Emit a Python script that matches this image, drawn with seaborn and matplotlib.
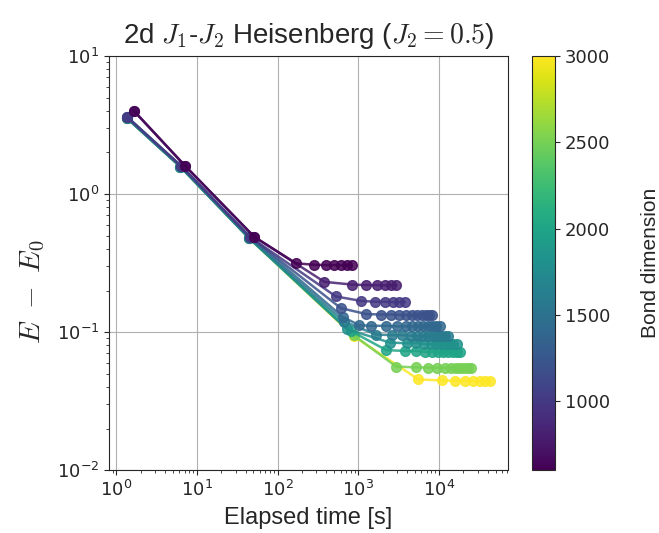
import matplotlib
matplotlib.use("Agg")
import matplotlib.pyplot as plt
import matplotlib as mpl
import seaborn as sns
import pandas as pd

# bond dimensions (colorbar)
bond_dims = [600, 800, 1000, 1200, 1400, 1600, 1800, 2000, 2500, 3000]

# elapsed time [s] and energy error per bond dimension
t_600 = [1.65, 7.1, 51, 168, 284, 397, 504, 611, 717, 827]
e_600 = [4.0, 1.6, 0.49, 0.315, 0.307, 0.306, 0.306, 0.305, 0.305, 0.305]

t_800 = [1.65, 7.1, 51, 378, 820, 1250, 1680, 2113, 2534, 2956]
e_800 = [4.0, 1.6, 0.49, 0.231, 0.221, 0.219, 0.219, 0.218, 0.218, 0.218]

t_1000 = [1.37, 6.3, 45, 526, 1083, 1619, 2113, 2659, 3223, 3750]
e_1000 = [3.6, 1.6, 0.49, 0.181, 0.168, 0.166, 0.166, 0.165, 0.165, 0.165]

t_1200 = [1.37, 6.3, 45, 604, 1250, 1911, 2561, 3205, 3863, 4584, 5337, 6054, 6790, 7530, 8130]
e_1200 = [3.6, 1.6, 0.49, 0.149, 0.135, 0.134, 0.134, 0.133, 0.133, 0.133, 0.133, 0.133, 0.133, 0.133, 0.133]

t_1400 = [1.37, 6.3, 45, 634, 1023, 1442, 2218, 3006, 3826, 4624, 5493, 6342, 7255, 8209, 9206, 10240]
e_1400 = [3.6, 1.6, 0.49, 0.129, 0.112, 0.111, 0.111, 0.110, 0.110, 0.110, 0.110, 0.110, 0.110, 0.110, 0.110, 0.110]

t_1600 = [1.35, 6.2, 44, 665, 1648, 2606, 3470, 4415, 5335, 6339, 7311, 8370, 9463, 10620, 11800, 12980]
e_1600 = [3.55, 1.58, 0.48, 0.119, 0.096, 0.095, 0.095, 0.094, 0.094, 0.094, 0.094, 0.094, 0.094, 0.094, 0.094, 0.094]

t_1800 = [1.35, 6.2, 44, 721, 2439, 3939, 5188, 6471, 7838, 9204, 10630, 12050, 13510, 14990, 16510]
e_1800 = [3.55, 1.58, 0.48, 0.105, 0.084, 0.083, 0.083, 0.082, 0.082, 0.082, 0.082, 0.082, 0.082, 0.082, 0.082]

t_2000 = [1.35, 6.2, 44, 797, 2218, 3750, 5096, 6595, 8064, 9660, 11250, 12980, 14850, 16660, 18170]
e_2000 = [3.55, 1.58, 0.48, 0.102, 0.074, 0.073, 0.073, 0.072, 0.072, 0.072, 0.072, 0.072, 0.072, 0.072, 0.072]

t_2500 = [1.35, 6.2, 44, 869, 2940, 5188, 7255, 9463, 11700, 13900, 16040, 18140, 20350, 22630, 24890]
e_2500 = [3.55, 1.58, 0.48, 0.095, 0.0562, 0.0555, 0.0553, 0.0552, 0.0551, 0.0551, 0.0551, 0.0551, 0.0551, 0.0551, 0.0551]

t_3000 = [1.35, 6.2, 44, 880, 5524, 10750, 15600, 20950, 26340, 31930, 37170, 42560]
e_3000 = [3.55, 1.58, 0.48, 0.093, 0.0454, 0.0446, 0.0444, 0.0443, 0.0443, 0.0443, 0.0443, 0.0443]

times = [t_600, t_800, t_1000, t_1200, t_1400, t_1600, t_1800, t_2000, t_2500, t_3000]
errors = [e_600, e_800, e_1000, e_1200, e_1400, e_1600, e_1800, e_2000, e_2500, e_3000]

rows = []
for D, ts, es in zip(bond_dims, times, errors):
    for t, e in zip(ts, es):
        rows.append({"time": t, "err": e, "D": D})
df = pd.DataFrame(rows)

sns.set_style("ticks")
plt.rcParams["font.family"] = ["DejaVu Sans"]
plt.rcParams["mathtext.fontset"] = "cm"
plt.rcParams["xtick.labelsize"] = 13
plt.rcParams["ytick.labelsize"] = 13

fig = plt.figure(figsize=(6.59, 5.33), dpi=100)
ax = fig.add_axes([0.165, 0.118, 0.606, 0.777])

norm = mpl.colors.Normalize(vmin=600, vmax=3000)
sns.lineplot(data=df, x="time", y="err", hue="D", palette="viridis", hue_norm=norm,
             marker="o", markersize=7, linewidth=1.8, estimator=None, sort=False,
             legend=False, ax=ax)

# marker edges in the line colour, slightly transparent; small D on top
n = len(ax.lines)
for i, line in enumerate(ax.lines):
    line.set_markeredgecolor(line.get_color())
    line.set_markeredgewidth(1)
    line.set_alpha(0.85)
    line.set_zorder(3 + n - i)

ax.set_xscale("log")
ax.set_yscale("log")
ax.set_ylim(1e-2, 1e1)
ax.grid(True, which="major", color="#b0b0b0", linewidth=0.8)
ax.set_axisbelow(True)

ax.set_title(r"2d $J_1$-$J_2$ Heisenberg ($J_2 = 0.5$)", fontsize=20,
             family="Liberation Sans", pad=9)
ax.set_xlabel("Elapsed time [s]", fontsize=17, family="Liberation Sans", labelpad=5)
ax.set_ylabel(r"$E\ -\ E_0$", fontsize=21)
ax.yaxis.set_label_coords(-0.155, 0.43)

cax = fig.add_axes([0.807, 0.118, 0.035, 0.777])
sm = mpl.cm.ScalarMappable(norm=norm, cmap="viridis")
cb = fig.colorbar(sm, cax=cax, ticks=[1000, 1500, 2000, 2500, 3000])
cb.set_label("Bond dimension", fontsize=15, family="Liberation Sans", labelpad=22)

fig.savefig("out.png", dpi=100)
